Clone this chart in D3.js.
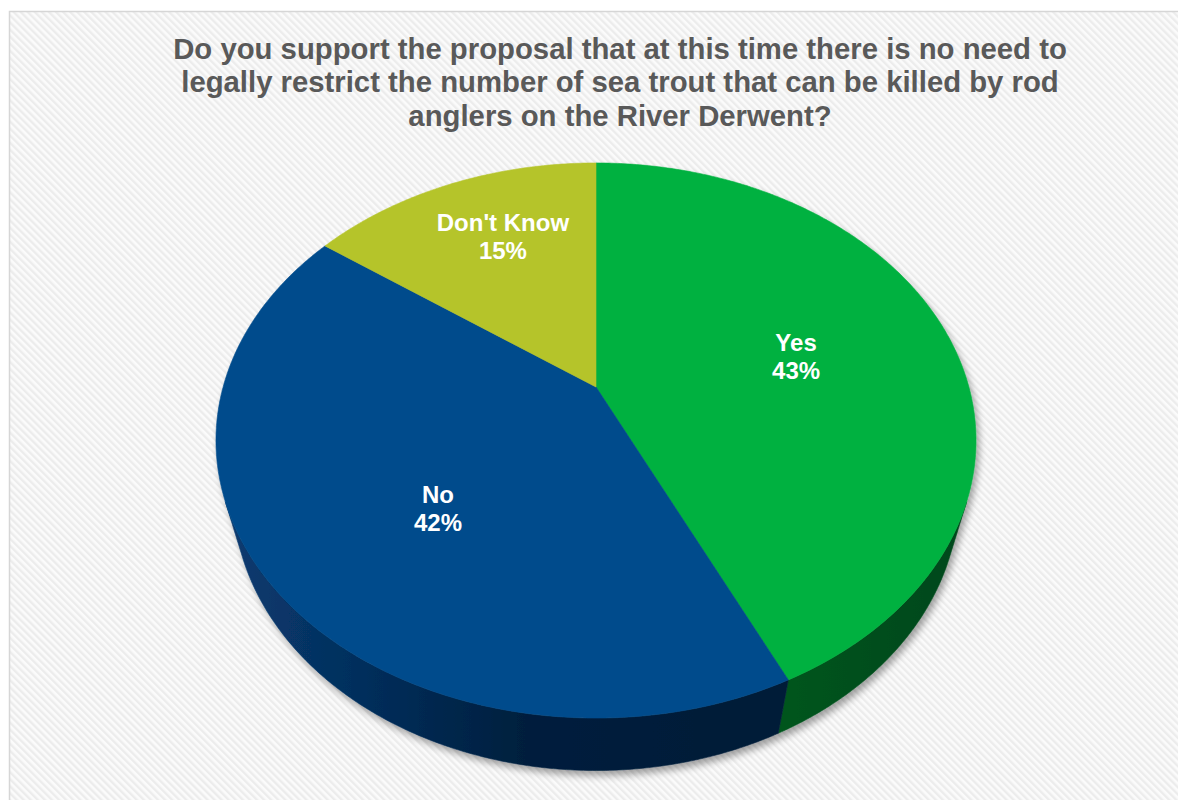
<!DOCTYPE html>
<html>
<head>
<meta charset="utf-8">
<script src="https://cdn.jsdelivr.net/npm/d3@7"></script>
<style>
  html, body { margin: 0; padding: 0; background: #ffffff; }
  svg { display: block; }
  text { font-family: "Liberation Sans", Arial, Helvetica, sans-serif; font-weight: bold; }
</style>
</head>
<body>
<script>
// Survey responses
const categories = ["Yes", "No", "Don't Know"];
const values = [43, 42, 15];
const percentLabels = ["43%", "42%", "15%"];
const topColors = ["#00b140", "#034c8c", "#b5c42a"];
const titleLines = [
  "Do you support the proposal that at this time there is no need to",
  "legally restrict the number of sea trout that can be killed by rod",
  "anglers on the River Derwent?"
];

const W = 1178, H = 800;
const svg = d3.select("body").append("svg").attr("width", W).attr("height", H);
const defs = svg.append("defs");

// Diagonal hatch for the chart area
const hatch = defs.append("pattern")
  .attr("id", "hatch").attr("patternUnits", "userSpaceOnUse")
  .attr("width", 5).attr("height", 5)
  .attr("patternTransform", "rotate(-45)");
hatch.append("rect").attr("width", 5).attr("height", 5).attr("fill", "#fbfbfb");
hatch.append("rect").attr("width", 2.4).attr("height", 5).attr("fill", "#ececec");

svg.append("rect")
  .attr("x", 9.5).attr("y", 11.5).attr("width", W).attr("height", H)
  .attr("fill", "url(#hatch)").attr("stroke", "#d6d6d6").attr("stroke-width", 1.5);

// Title
const title = svg.append("text").attr("text-anchor", "middle")
  .attr("fill", "#595959").style("font-size", "29.3px");
titleLines.forEach((line, i) => {
  title.append("tspan").attr("x", 620).attr("y", 59 + i * 33.3).text(line);
});

// Perspective camera for the tilted disc
const cx = 596, cy = 387, S = 372.9;
const sinPhi = 0.7166, cosPhi = 0.6975, dist = 3.618, depth = 0.23;
const xs = d3.scaleLinear().domain([-1, 1]).range([cx - S, cx + S]);
const ys = d3.scaleLinear().domain([-1, 1]).range([cy + S, cy - S]);

function project(theta, level, r = 1) {
  const X = r * Math.sin(theta), Z = -r * Math.cos(theta), Y = level;
  const u = Y * cosPhi - Z * sinPhi;
  const w = Y * sinPhi + Z * cosPhi;
  const f = 1 / (1 - w / dist);
  return [xs(X * f), ys(u * f)];
}

function samples(a, b) {
  const n = Math.max(2, Math.ceil(Math.abs(b - a) / 0.01));
  return d3.range(n + 1).map(i => a + (b - a) * i / n);
}

const pie = d3.pie().sort(null).value(d => d.value).startAngle(0).endAngle(2 * Math.PI);
const arcs = pie(categories.map((c, i) => ({ name: c, value: values[i], pct: percentLabels[i], color: topColors[i] })));

// Range of the outer wall that faces the camera
const cosLimit = -1 / (dist * cosPhi);
const wallMin = Math.acos(cosLimit);
const wallMax = 2 * Math.PI - wallMin;

// Wall shading
const wallStops = [
  [["0", "#00561f"], ["1", "#00461a"]],
  [["0", "#0a3c72"], ["0.3", "#032c58"], ["0.55", "#001f3d"], ["1", "#001c37"]],
  [["0", "#6f7a14"], ["1", "#5d6610"]]
];
wallStops.forEach((stops, i) => {
  const g = defs.append("linearGradient").attr("id", "wall" + i)
    .attr("gradientUnits", "userSpaceOnUse")
    .attr("x1", i === 0 ? 770 : 215).attr("x2", i === 0 ? 976 : 780)
    .attr("y1", 0).attr("y2", 0);
  stops.forEach(s => g.append("stop").attr("offset", s[0]).attr("stop-color", s[1]));
});

// Soft shadow beneath the pie
const shadow = defs.append("filter").attr("id", "shadow")
  .attr("x", "-10%").attr("y", "-10%").attr("width", "120%").attr("height", "125%");
shadow.append("feGaussianBlur").attr("in", "SourceAlpha").attr("stdDeviation", 3.5).attr("result", "b");
shadow.append("feOffset").attr("in", "b").attr("dx", 3).attr("dy", 5).attr("result", "o");
shadow.append("feComponentTransfer").attr("in", "o").attr("result", "s")
  .append("feFuncA").attr("type", "linear").attr("slope", 0.35);
const merge = shadow.append("feMerge");
merge.append("feMergeNode").attr("in", "s");
merge.append("feMergeNode").attr("in", "SourceGraphic");

const line = d3.line();
const pieG = svg.append("g").attr("filter", "url(#shadow)");

// Outer walls
arcs.forEach((d, i) => {
  const a = Math.max(d.startAngle, wallMin), b = Math.min(d.endAngle, wallMax);
  if (a >= b) return;
  const t = samples(a, b);
  const pts = t.map(th => project(th, 0)).concat(t.slice().reverse().map(th => project(th, -depth)));
  pieG.append("path").attr("d", line(pts) + "Z")
    .attr("fill", `url(#wall${i})`).attr("stroke", `url(#wall${i})`).attr("stroke-width", 0.6);
});

// Top faces
arcs.forEach(d => {
  const pts = [project(0, 0, 0)].concat(samples(d.startAngle, d.endAngle).map(th => project(th, 0)));
  pieG.append("path").attr("d", line(pts) + "Z")
    .attr("fill", d.data.color).attr("stroke", d.data.color).attr("stroke-width", 0.6);
});

// Data labels
const labelA = 205, labelB = 178, labelCy = 396;
arcs.forEach(d => {
  const mid = (d.startAngle + d.endAngle) / 2;
  const lx = cx + labelA * Math.sin(mid);
  const ly = labelCy - labelB * Math.cos(mid);
  const t = svg.append("text").attr("text-anchor", "middle").attr("fill", "#ffffff").style("font-size", "24px");
  t.append("tspan").attr("x", lx).attr("y", ly - 6).text(d.data.name);
  t.append("tspan").attr("x", lx).attr("y", ly + 22).text(d.data.pct);
});
</script>
</body>
</html>
